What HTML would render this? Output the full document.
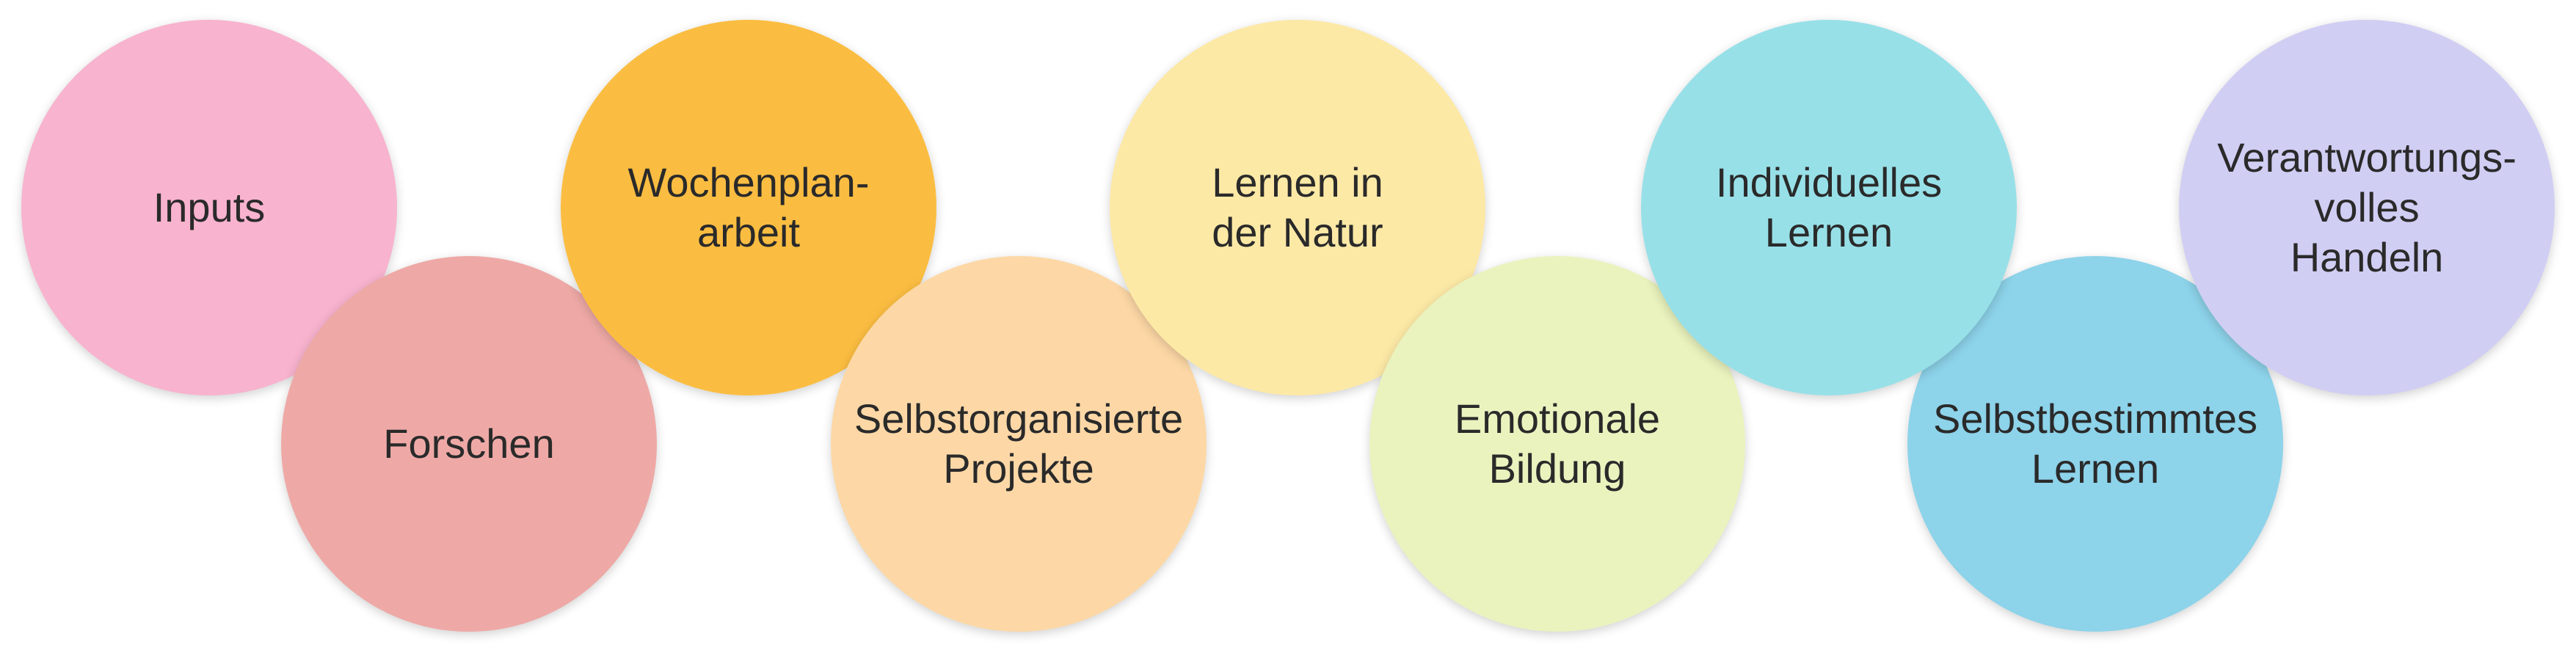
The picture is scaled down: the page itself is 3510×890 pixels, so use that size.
<!DOCTYPE html>
<html><head><meta charset="utf-8"><style>
html,body{margin:0;padding:0;background:#fff;}
body{width:3510px;height:890px;position:relative;overflow:hidden;}
.c{position:absolute;width:512px;height:512px;border-radius:50%;display:flex;align-items:center;justify-content:center;text-align:center;
font-family:"Liberation Sans",sans-serif;font-size:56px;line-height:68px;color:#2a2a2a;box-shadow:0 4px 14px rgba(0,0,0,0.18);}
</style></head><body>
<div class="c" style="left:29px;top:27px;background:#F8B3CE">Inputs</div>
<div class="c" style="left:383px;top:349px;background:#EEA9A6">Forschen</div>
<div class="c" style="left:764px;top:27px;background:#FBBD41">Wochenplan-<br>arbeit</div>
<div class="c" style="left:1132px;top:349px;background:#FDD8A6">Selbstorganisierte<br>Projekte</div>
<div class="c" style="left:1512px;top:27px;background:#FDE9A6">Lernen in<br>der Natur</div>
<div class="c" style="left:1866px;top:349px;background:#EAF3BE">Emotionale<br>Bildung</div>
<div class="c" style="left:2599px;top:349px;background:#8DD3EA">Selbstbestimmtes<br>Lernen</div>
<div class="c" style="left:2236px;top:27px;background:#98E0E8">Individuelles<br>Lernen</div>
<div class="c" style="left:2969px;top:27px;background:#D1CEF4">Verantwortungs-<br>volles<br>Handeln</div>
</body></html>
